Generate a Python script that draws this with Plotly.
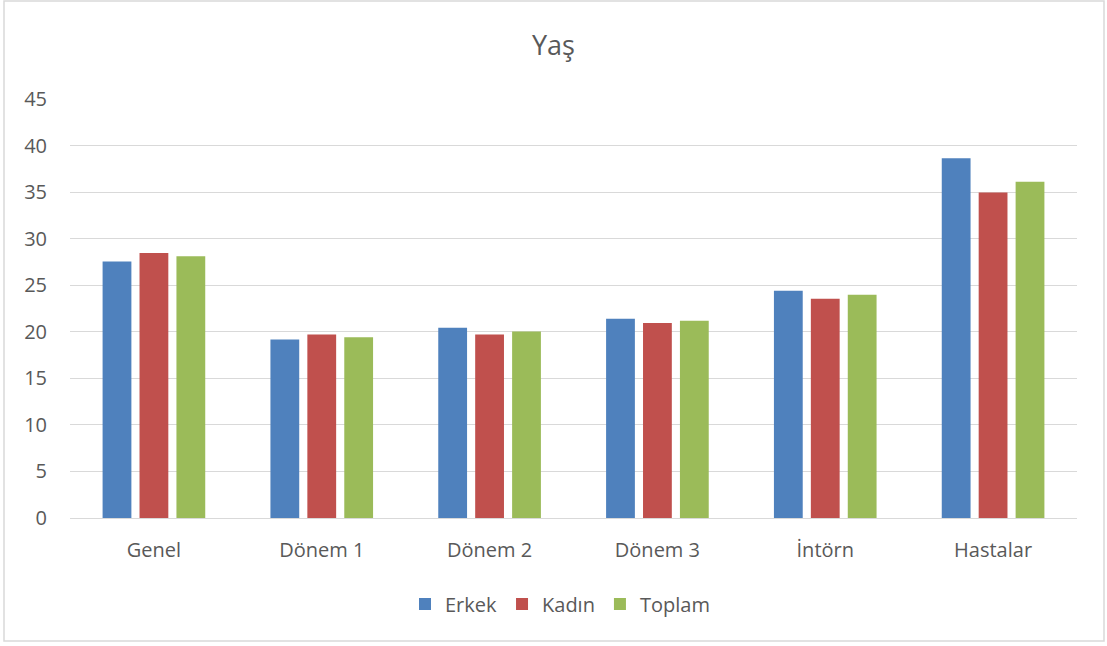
import plotly.graph_objects as go

categories = ["Genel", "Dönem 1", "Dönem 2", "Dönem 3", "İntörn", "Hastalar"]
erkek = [27.55, 19.17, 20.43, 21.4, 24.4, 38.65]
kadin = [28.45, 19.7, 19.72, 20.93, 23.55, 34.97]
toplam = [28.1, 19.42, 20.04, 21.18, 23.97, 36.1]
series_names = ["Erkek", "Kadın", "Toplam"]
colors = ["#4F81BD", "#C0504D", "#9BBB59"]
tick_vals = [0, 5, 10, 15, 20, 25, 30, 35, 40, 45]

FONT = "Open Sans"
fig = go.Figure()
for name, vals, c in zip(series_names, [erkek, kadin, toplam], colors):
    fig.add_trace(go.Bar(x=categories, y=vals, name=name, marker=dict(color=c, line=dict(width=0))))

L, R, T, B = 70, 30, 99, 128
W, H = 1107, 646
pw, ph = W - L - R, H - T - B

def px_to_paper_x(px):
    return (px - L) / pw

def px_to_paper_y(py):
    return (H - B - py) / ph

fig.update_layout(
    width=W, height=H,
    margin=dict(l=L, r=R, t=T, b=B),
    paper_bgcolor="white", plot_bgcolor="white",
    barmode="group", bargap=0.34, bargroupgap=0.22,
    title=dict(text="Yaş", x=0.5, xanchor="center", y=1 - 46 / H, yanchor="middle",
               font=dict(family=FONT, size=27, color="#595959")),
    font=dict(family=FONT, size=20, color="#595959"),
    xaxis=dict(showgrid=False, showline=True, linecolor="#d9d9d9", linewidth=1,
               ticks="", ticklabelstandoff=14, tickfont=dict(size=20, color="#595959")),
    yaxis=dict(range=[0, 45], tickvals=tick_vals, showgrid=True, gridcolor="#d9d9d9",
               gridwidth=1.3, zeroline=False, ticks="", ticklabelstandoff=22,
               tickfont=dict(size=20, color="#595959")),
    legend=dict(orientation="h", x=px_to_paper_x(560), xanchor="center", y=px_to_paper_y(604), yanchor="middle",
                font=dict(size=20, color="#595959"), itemwidth=30, traceorder="normal"),
    shapes=[dict(type="rect", xref="paper", yref="paper",
                 x0=px_to_paper_x(4), x1=px_to_paper_x(1104),
                 y0=px_to_paper_y(641), y1=px_to_paper_y(1),
                 line=dict(color="#d9d9d9", width=1.5), layer="below")],
)

fig.write_html("out.html")
